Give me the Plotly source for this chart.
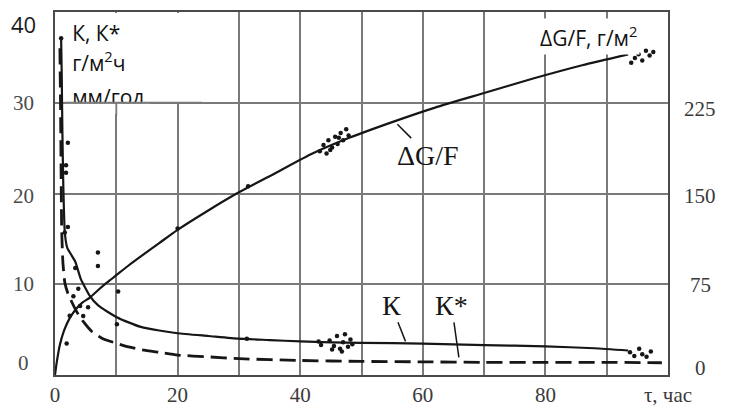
import plotly.graph_objects as go

# ---------------- data ----------------
# ΔG/F curve (right axis, g/m²)
t_dg = [0, 0.3, 0.8, 1.5, 2.4, 3.5, 4.5, 5.7, 7, 8.5, 10, 12, 14, 17, 20, 25, 30, 36, 42, 48, 55, 62, 70, 78, 86, 93.5]
dg = [0, 11, 25, 37, 47, 55, 60, 64, 70, 76.5, 82.5, 90.5, 98, 109, 120, 136, 151, 167, 183, 196, 209, 221, 233, 245, 256, 265]

# K curve (left axis)
t_k = [1.0, 1.1, 1.2, 1.35, 1.6, 2.0, 2.6, 3.3, 4.2, 5.7, 7, 8.5, 10, 12, 14, 17, 20, 25, 30, 35, 40, 45, 50, 60, 70, 80, 88, 93.5]
k = [37, 33, 27, 21, 15.7, 14.0, 13.3, 12.5, 10.6, 8.7, 7.7, 7.0, 6.4, 5.8, 5.3, 4.9, 4.6, 4.3, 4.0, 3.85, 3.7, 3.6, 3.55, 3.45, 3.3, 3.15, 2.95, 2.7]

# K* curve (left axis, dashed)
t_ks = [0.8, 0.9, 1.0, 1.1, 1.3, 1.6, 2.1, 2.7, 3.6, 4.6, 6, 7.8, 10, 12, 14, 17, 20, 25, 30, 40, 50, 60, 70, 80, 90, 99]
ks = [36, 30, 22, 15.7, 12.3, 10.2, 9.0, 8.1, 6.9, 5.9, 4.8, 4.0, 3.5, 3.1, 2.8, 2.5, 2.2, 2.0, 1.8, 1.6, 1.5, 1.45, 1.4, 1.4, 1.4, 1.35]

# measured points, K (left axis)
pk_t = [1.0, 2.1, 1.8, 1.8, 2.1, 1.6, 7, 7, 10.3, 10.1, 3.8, 4.6, 3.3, 31.3, 43, 43.4,
        44.8, 45.5, 46.0, 46.5, 47.0, 47.3, 47.8, 48.2, 46.8, 45.2, 48.5,
        93.8, 94.5, 95.3, 95.8, 96.5, 97.2]
pk_v = [37.1, 25.6, 23.1, 22.3, 16.3, 15.7, 13.5, 12.0, 9.2, 5.6, 9.5, 6.5, 11.8, 4.0, 3.7, 3.3,
        3.8, 3.2, 4.3, 2.9, 3.6, 4.5, 3.1, 3.9, 2.6, 2.8, 3.4,
        2.5, 2.1, 2.9, 2.3, 2.0, 2.6]

# measured points, ΔG/F (right axis)
pd_t = [1.9, 2.4, 3.0, 4.1, 5.4, 20, 31.5,
        43.2, 43.8, 44.3, 44.6, 45.2, 45.7, 46.1, 46.6, 47.0, 47.5, 47.9, 44.9, 46.3,
        94.0, 94.6, 95.2, 95.8, 96.4, 97.0, 97.6]
pd_v = [26, 49, 65, 57, 56, 121, 156,
        185, 190, 183, 194, 188, 197, 191, 200, 194, 203, 198, 186, 196,
        258, 262, 265, 260, 268, 264, 267]

x_ticks = [0, 10, 20, 30, 40, 50, 60, 70, 80, 90, 100]
x_labels = ["0", "", "20", "", "40", "", "60", "", "80", "", "τ, час"]
y_ticks = [0, 10, 20, 30, 40]
y_labels = ["0", "10", "20", "30", "40"]
y2_ticks = [0, 75, 150, 225]
y2_labels = ["0", "75", "150", "225"]

label_lines = ["К, К*", "г/м<sup>2</sup>ч", "мм/год"]

# ---------------- styles ----------------
INK = "#161616"
GRID = "#7a7a7a"
SERIF = "Liberation Serif"
SANS = "Open Sans"

fig = go.Figure()

fig.add_trace(go.Scatter(x=t_dg, y=dg, yaxis="y2", mode="lines",
                         line=dict(color=INK, width=2.2, shape="spline", smoothing=0.6),
                         hoverinfo="skip", showlegend=False))
fig.add_trace(go.Scatter(x=t_k, y=k, mode="lines",
                         line=dict(color=INK, width=2.2, shape="spline", smoothing=0.5),
                         hoverinfo="skip", showlegend=False))
fig.add_trace(go.Scatter(x=t_ks, y=ks, mode="lines",
                         line=dict(color=INK, width=2.8, dash="16px,7px", shape="spline", smoothing=0.5),
                         hoverinfo="skip", showlegend=False))
fig.add_trace(go.Scatter(x=pk_t, y=pk_v, mode="markers",
                         marker=dict(color=INK, size=4.5),
                         hoverinfo="skip", showlegend=False))
fig.add_trace(go.Scatter(x=pd_t, y=pd_v, yaxis="y2", mode="markers",
                         marker=dict(color=INK, size=4.5),
                         hoverinfo="skip", showlegend=False))
# caption of the left axis (text trace so that the gridline can clip its last line)
fig.add_trace(go.Scatter(x=[2.8, 2.8, 2.8], y=[37.4, 34.1, 30.35], mode="text",
                         text=label_lines, textposition="middle right",
                         textfont=dict(family=SANS, size=21, color="#111"),
                         cliponaxis=False, hoverinfo="skip", showlegend=False))

shapes = [
    dict(type="rect", xref="x", yref="y", x0=1.5, x1=24, y0=30, y1=39.9,
         fillcolor="white", line=dict(width=0), layer="between"),
    dict(type="rect", xref="x", yref="y", x0=1.7, x1=15.5, y0=28.8, y1=29.92,
         fillcolor="white", line=dict(width=0), layer="above"),
    dict(type="line", xref="x", yref="y", x0=1.5, x1=24, y0=30, y1=30,
         line=dict(color=GRID, width=1.8), layer="above"),
    dict(type="line", xref="x", yref="y", x0=10, x1=10, y0=28.6, y1=30,
         line=dict(color=GRID, width=1.8), layer="above"),
]

annotations = []
# left axis tick labels
y_shift = {0: 12, 10: 0, 20: -2, 30: 0, 40: -12}
for v, lab in zip(y_ticks, y_labels):
    fnt = dict(family=SANS, size=22, color="#1a1a1a") if v == 40 else dict(family=SERIF, size=21, color="#4a4a4a")
    annotations.append(dict(x=0, xref="paper", y=v, yref="y", text=lab, showarrow=False,
                            xanchor="center", yanchor="middle", xshift=-32, yshift=y_shift[v], font=fnt))
# right axis tick labels
y2_shift = {0: 7, 75: -1, 150: -2, 225: -6}
for v, lab in zip(y2_ticks, y2_labels):
    annotations.append(dict(x=1, xref="paper", y=v, yref="y2", text=lab, showarrow=False,
                            xanchor="center", yanchor="middle", xshift=32, yshift=y2_shift[v],
                            font=dict(family=SERIF, size=21, color="#3a3a3a")))
# right-top caption
annotations.append(dict(x=0.87, xref="paper", y=0.932, yref="paper", text="ΔG/F, г/м<sup>2</sup>",
                        xanchor="center", yanchor="middle",
                        showarrow=False, font=dict(family=SANS, size=21, color="#111"),
                        bgcolor="white", borderpad=2))
# curve labels with leader lines
annotations.append(dict(x=55.5, y=209, xref="x", yref="y2", text="ΔG/F", showarrow=True,
                        arrowhead=0, arrowwidth=1.5, arrowcolor=INK, ax=33, ay=33, standoff=3,
                        font=dict(family=SERIF, size=28, color=INK)))
annotations.append(dict(x=57.3, y=3.5, xref="x", yref="y", text="К", showarrow=True,
                        arrowhead=0, arrowwidth=1.5, arrowcolor=INK, ax=-15, ay=-38, standoff=2,
                        font=dict(family=SERIF, size=28, color=INK)))
annotations.append(dict(x=66, y=1.4, xref="x", yref="y", text="К*", showarrow=True,
                        arrowhead=0, arrowwidth=1.5, arrowcolor=INK, ax=-8, ay=-57, standoff=5,
                        font=dict(family=SERIF, size=28, color=INK)))

fig.update_layout(
    width=733, height=417,
    margin=dict(l=55, r=65, t=10, b=40),
    paper_bgcolor="white", plot_bgcolor="white",
    xaxis=dict(range=[0, 100], tickvals=x_ticks, ticktext=x_labels,
               showgrid=True, gridcolor=GRID, gridwidth=1.8, zeroline=False,
               showline=True, mirror=True, linecolor="#4a4a4a", linewidth=2.2,
               ticks="", tickfont=dict(family=SERIF, size=21, color="#3a3a3a")),
    yaxis=dict(range=[0, 40], tickvals=y_ticks, showticklabels=False,
               showgrid=True, gridcolor=GRID, gridwidth=1.8, zeroline=False,
               showline=True, mirror=True, linecolor="#4a4a4a", linewidth=2.2, ticks=""),
    yaxis2=dict(range=[0, 300], overlaying="y", side="right", tickvals=y2_ticks,
                showticklabels=False, showgrid=False, zeroline=False, showline=False, ticks=""),
    shapes=shapes, annotations=annotations,
)

fig.write_html("out.html")
